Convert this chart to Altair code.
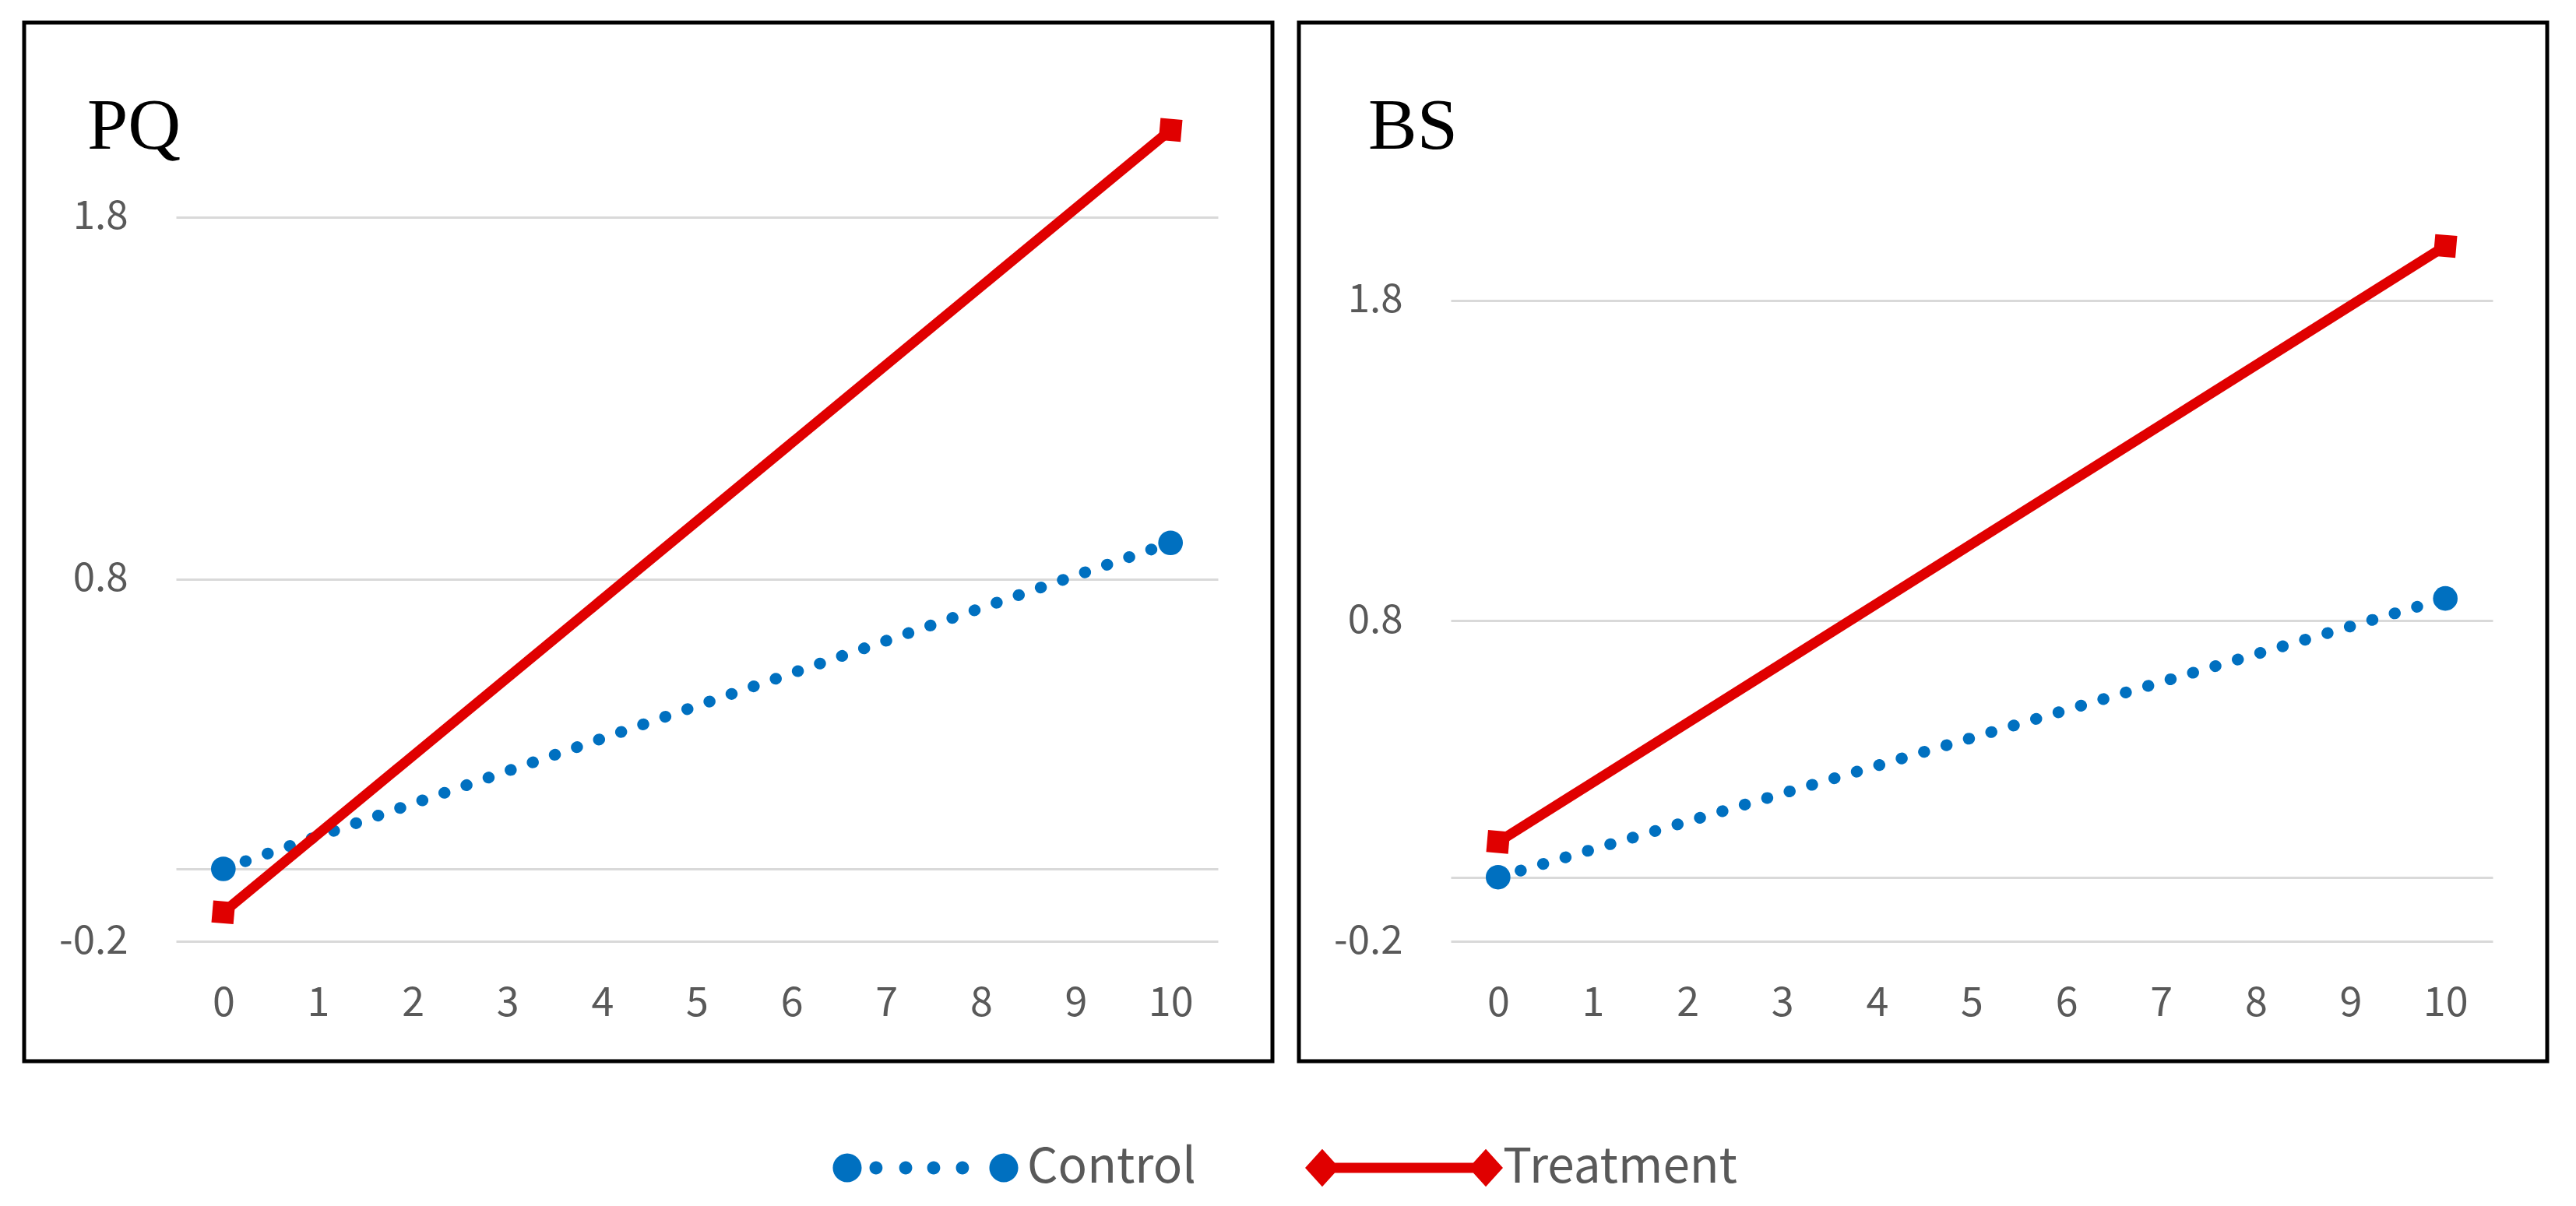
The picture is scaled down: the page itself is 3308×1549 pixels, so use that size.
import altair as alt
import pandas as pd

# ---------------- data ----------------
times = [0, 10]
pq_control = [0.0, 0.90]
pq_treatment = [-0.12, 2.04]
bs_control = [0.0, 0.87]
bs_treatment = [0.11, 1.97]
series_names = ["Control", "Treatment"]
panel_names = ["PQ", "BS"]
x_ticks = list(range(0, 11))
y_ticks = [-0.2, 0.8, 1.8]
axis_line = [0.0]

BLUE = "#0070C0"
RED = "#E00000"
GRAY = "#595959"
GRID = "#d9d9d9"
FONT = "Noto Sans CJK KR"
SERIF = "Liberation Serif"

W = 1338
H = 1070

# legend symbols (unit box -1..1)
def circ(cx, r):
    return (f"M{cx - r:.3f},0 A{r:.3f},{r:.3f} 0 1,0 {cx + r:.3f},0 "
            f"A{r:.3f},{r:.3f} 0 1,0 {cx - r:.3f},0 Z ")

PATH_C = (circ(-0.819, 0.146) + circ(-0.528, 0.066) + circ(-0.228, 0.066)
          + circ(0.055, 0.066) + circ(0.346, 0.066) + circ(0.764, 0.146)).strip()
PATH_T = ("M-1,0 L-0.827,-0.19 L-0.654,0 L-0.827,0.19 Z "
          "M0.654,0 L0.827,-0.19 L1,0 L0.827,0.19 Z "
          "M-0.70,-0.051 L0.70,-0.051 L0.70,0.051 L-0.70,0.051 Z")


def panel_df(ctrl, trt):
    rows = []
    for t, v in zip(times, ctrl):
        rows.append({"time": t, "value": v, "series": series_names[0]})
    for t, v in zip(times, trt):
        rows.append({"time": t, "value": v, "series": series_names[1]})
    return pd.DataFrame(rows)


def make_panel(name, df, ymax, title_dx, show_legend):
    x = alt.X("time:Q",
              scale=alt.Scale(domain=[-0.5, 10.5], nice=False, zero=False),
              axis=alt.Axis(values=x_ticks, title=None, grid=False, domain=False,
                            ticks=False, tickSize=0, labelFont=FONT, labelFontSize=52,
                            labelColor=GRAY, labelBaseline="middle", labelPadding=79,
                            labelFlush=False, labelOverlap=False))
    y = alt.Y("value:Q",
              scale=alt.Scale(domain=[-0.2, ymax], nice=False, zero=False),
              axis=alt.Axis(values=y_ticks + axis_line, title=None, grid=True,
                            gridColor=GRID, gridWidth=3, domain=False, ticks=False,
                            tickSize=0, labelFont=FONT, labelFontSize=51,
                            labelColor=GRAY, labelPadding=62, labelBaseline="middle",
                            labelFlush=False, labelOverlap=False,
                            labelExpr="datum.value == 0 ? '' : (datum.value < 0 ? '-' + format(-datum.value, '.1f') : format(datum.value, '.1f'))"))

    base = alt.Chart(df)
    ctrl = base.transform_filter(alt.datum.series == series_names[0])
    trt = base.transform_filter(alt.datum.series == series_names[1])
    ctrl_line = ctrl.mark_line(color=BLUE, strokeWidth=15, strokeDash=[0.5, 29.5],
                               strokeCap="round").encode(x=x, y=y)
    trt_line = trt.mark_line(color=RED, strokeWidth=13).encode(x=x, y=y)
    ctrl_pts = ctrl.mark_point(color=BLUE, shape="circle", filled=True, size=1000,
                               opacity=1).encode(x=x, y=y)
    trt_pts = trt.mark_point(color=RED, shape="square", filled=True, size=800, angle=5,
                             opacity=1).encode(x=x, y=y)

    frame = alt.Chart(pd.DataFrame({"f": [1]})).mark_rect(
        filled=False, stroke="black", strokeWidth=5, color="black").encode(
        x=alt.value(-195), x2=alt.value(W + 70), y=alt.value(-110), y2=alt.value(H + 154))

    title = alt.Chart(pd.DataFrame({"panel": [name]})).mark_text(
        font=SERIF, fontSize=94, align="left", baseline="alphabetic", color="black").encode(
        x=alt.value(title_dx), y=alt.value(52), text="panel:N")

    layers = [frame, ctrl_line, trt_line, ctrl_pts, trt_pts, title]
    if show_legend:
        leg = alt.Legend(orient="none", legendX=839, legendY=1234, direction="horizontal",
                         title=None, labelFont=FONT, labelFontSize=62, labelColor=GRAY,
                         labelLimit=0, symbolSize=64516, symbolStrokeWidth=0,
                         labelOffset=0, columnPadding=140, padding=0)
        cscale = alt.Scale(domain=series_names, range=[BLUE, RED])
        legend_layer = base.transform_filter("false").mark_point(
            filled=True, opacity=1, size=64516).encode(
            x=x, y=y,
            shape=alt.Shape("series:N", scale=alt.Scale(domain=series_names, range=[PATH_C, PATH_T]), legend=leg),
            color=alt.Color("series:N", scale=cscale, legend=leg))
        layers.append(legend_layer)
    return alt.layer(*layers).properties(width=W, height=H)


pq = make_panel(panel_names[0], panel_df(pq_control, pq_treatment), 2.1, -114, True)
bs = make_panel(panel_names[1], panel_df(bs_control, bs_treatment), 2.4, -106, False)

chart = alt.hconcat(pq, bs, spacing=28).properties(
    padding={"left": 20, "top": 18, "right": 10, "bottom": 5},
    background="white").configure_view(stroke="transparent")

chart.save("out.html", embed_options={"renderer": "svg", "actions": False})
